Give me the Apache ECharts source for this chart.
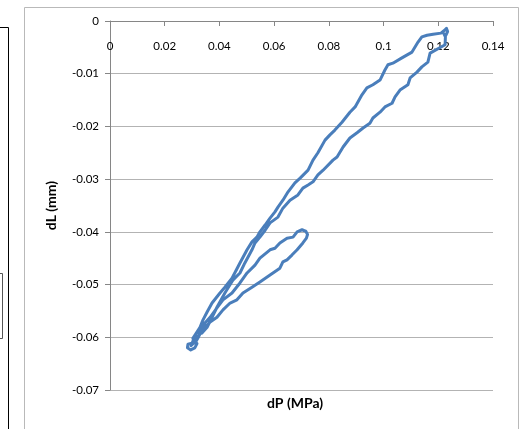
<!DOCTYPE html>
<html>
<head>
<meta charset="utf-8">
<script src="https://cdn.jsdelivr.net/npm/echarts@6/dist/echarts.min.js"></script>
<style>
  html, body { margin: 0; padding: 0; background: #fff; }
  #chart { width: 523px; height: 429px; }
</style>
</head>
<body>
<div id="chart"></div>
<script>
// dP (MPa) / dL (mm) loop
const dP = [
  0.0716, 0.0722, 0.0718, 0.0705, 0.0684, 0.0665, 0.0647, 0.0632, 0.0621, 0.0585, 0.0548,
  0.0519, 0.0486, 0.0464, 0.0439, 0.0413, 0.0391, 0.0366, 0.0340, 0.0318, 0.0300,
  0.0285, 0.0283, 0.0295, 0.0310, 0.0318, 0.0305, 0.0296, 0.0312, 0.0322, 0.0303,
  0.0329, 0.0340, 0.0355, 0.0373, 0.0402, 0.0420, 0.0446, 0.0475, 0.0501, 0.0519,
  0.0537, 0.0548, 0.0567, 0.0585, 0.0603, 0.0614, 0.0632, 0.0651, 0.0676, 0.0695,
  0.0724, 0.0742, 0.0760, 0.0786, 0.0804, 0.0822, 0.0848, 0.0877, 0.0896, 0.0921,
  0.0939, 0.0961, 0.0987, 0.1005, 0.1016, 0.1034, 0.1067, 0.1104, 0.1126, 0.1140,
  0.1159, 0.1181, 0.1210, 0.1222, 0.1230, 0.1234, 0.1228, 0.1220, 0.1226,
  0.1225, 0.1170, 0.1162, 0.1140, 0.1122, 0.1097, 0.1089, 0.1060, 0.1042,
  0.1031, 0.1005, 0.0987, 0.0961, 0.0950, 0.0925, 0.0903, 0.0877, 0.0852, 0.0830,
  0.0815, 0.0779, 0.0760, 0.0742, 0.0724, 0.0705, 0.0687, 0.0658, 0.0632, 0.0614,
  0.0585, 0.0567, 0.0548, 0.0530, 0.0519, 0.0493, 0.0475, 0.0450, 0.0420, 0.0391,
  0.0373, 0.0355, 0.0336, 0.0345, 0.0330, 0.0340, 0.0325, 0.0314, 0.0325, 0.0311, 0.0329,
  0.0347, 0.0366, 0.0391, 0.0413, 0.0446, 0.0475, 0.0501, 0.0530, 0.0548, 0.0585,
  0.0603, 0.0621, 0.0647, 0.0669, 0.0684, 0.0702, 0.0716
];
const dL = [
  -0.0399, -0.0405, -0.0412, -0.0421, -0.0434, -0.0444, -0.0453, -0.0457, -0.0469, -0.0482, -0.0495,
  -0.0505, -0.0516, -0.0529, -0.0535, -0.0548, -0.0562, -0.0571, -0.0586, -0.0600, -0.0611,
  -0.0613, -0.0620, -0.0624, -0.0620, -0.0612, -0.0605, -0.0616, -0.0608, -0.0600, -0.0602,
  -0.0581, -0.0567, -0.0552, -0.0535, -0.0516, -0.0505, -0.0488, -0.0459, -0.0434, -0.0419,
  -0.0410, -0.0400, -0.0387, -0.0374, -0.0362, -0.0353, -0.0340, -0.0324, -0.0307, -0.0298,
  -0.0283, -0.0264, -0.0250, -0.0226, -0.0216, -0.0207, -0.0192, -0.0173, -0.0163, -0.0140,
  -0.0127, -0.0121, -0.0112, -0.0093, -0.0083, -0.0080, -0.0070, -0.0059, -0.0040, -0.0030,
  -0.0027, -0.0025, -0.0023, -0.0018, -0.0014, -0.0020, -0.0027, -0.0024, -0.0030,
  -0.0045, -0.0061, -0.0078, -0.0087, -0.0097, -0.0108, -0.0121, -0.0131, -0.0144,
  -0.0156, -0.0163, -0.0173, -0.0184, -0.0194, -0.0203, -0.0212, -0.0222, -0.0239, -0.0258,
  -0.0264, -0.0283, -0.0292, -0.0305, -0.0311, -0.0317, -0.0330, -0.0340, -0.0355, -0.0372,
  -0.0383, -0.0397, -0.0410, -0.0421, -0.0434, -0.0459, -0.0478, -0.0491, -0.0516, -0.0543,
  -0.0562, -0.0581, -0.0592, -0.0585, -0.0588, -0.0578, -0.0595, -0.0605, -0.0598, -0.0611, -0.0594,
  -0.0573, -0.0562, -0.0544, -0.0529, -0.0516, -0.0497, -0.0478, -0.0463, -0.0450, -0.0434,
  -0.0431, -0.0421, -0.0412, -0.0410, -0.0400, -0.0396, -0.0399
];

// axis ticks
const xTicks = [0, 0.02, 0.04, 0.06, 0.08, 0.1, 0.12, 0.14];
const yTicks = [0, -0.01, -0.02, -0.03, -0.04, -0.05, -0.06, -0.07];

const FONT = 'Lato, "Open Sans", sans-serif';
const fmt = v => String(parseFloat(v.toFixed(2)));

const chart = echarts.init(document.getElementById('chart'), null, { renderer: 'canvas' });

chart.setOption({
  animation: false,
  backgroundColor: '#fff',
  textStyle: { fontFamily: FONT },
  grid: { left: 110, top: 21, width: 383, height: 369, containLabel: false },
  title: {
    text: 'dP (MPa)',
    left: 267,
    top: 396,
    padding: 0,
    textStyle: { fontFamily: FONT, fontSize: 14, fontWeight: 'bold', color: '#000' }
  },
  xAxis: {
    type: 'value',
    position: 'top',
    min: xTicks[0],
    max: xTicks[xTicks.length - 1],
    interval: 0.02,
    axisLine: { show: true, onZero: false, lineStyle: { color: '#868686', width: 1 } },
    axisTick: { show: true, inside: true, length: 5, lineStyle: { color: '#868686' } },
    axisLabel: { inside: true, margin: 19, color: '#000', fontSize: 11.5, fontFamily: FONT, formatter: fmt },
    splitLine: { show: false }
  },
  yAxis: {
    type: 'value',
    min: yTicks[yTicks.length - 1],
    max: yTicks[0],
    interval: 0.01,
    name: 'dL (mm)',
    nameLocation: 'middle',
    nameGap: 52,
    nameRotate: 90,
    nameTextStyle: { fontFamily: FONT, fontSize: 14, fontWeight: 'bold', color: '#000' },
    axisLine: { show: true, onZero: false, lineStyle: { color: '#868686', width: 1 } },
    axisTick: { show: true, length: 5, lineStyle: { color: '#868686' } },
    axisLabel: { margin: 11, color: '#000', fontSize: 11.5, fontFamily: FONT, formatter: fmt },
    splitLine: { show: true, lineStyle: { color: '#b3b3b3', width: 1 } }
  },
  graphic: [
    // outline of chart area
    { type: 'rect', shape: { x: 24.5, y: 7.5, width: 494, height: 440 }, style: { fill: 'none', stroke: '#b9b9b9', lineWidth: 1 }, silent: true },
    // edge of neighbouring chart on the left
    { type: 'polyline', shape: { points: [[0, 27.5], [8.5, 27.5], [8.5, 440]] }, style: { fill: 'none', stroke: '#000', lineWidth: 1 }, silent: true },
    { type: 'rect', shape: { x: -2, y: 273.5, width: 4.5, height: 65 }, style: { fill: 'none', stroke: '#555', lineWidth: 1 }, silent: true }
  ],
  series: [{
    type: 'line',
    data: dP.map((p, i) => [p, dL[i]]),
    showSymbol: false,
    lineStyle: { color: '#4a7ebb', width: 3, join: 'round', cap: 'round' },
    itemStyle: { color: '#4a7ebb' }
  }]
});
</script>
</body>
</html>
